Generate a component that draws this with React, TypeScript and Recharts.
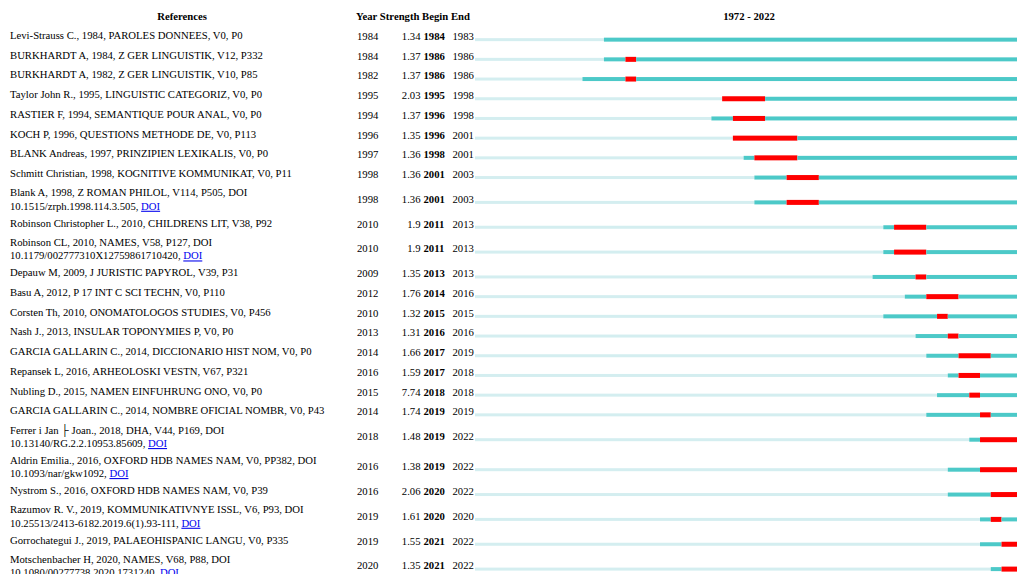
import { ComposedChart, Bar, XAxis, YAxis, Customized } from 'recharts'

// Citation bursts table, 1972 - 2022
const references = [
  'Levi-Strauss C., 1984, PAROLES DONNEES, V0, P0',
  'BURKHARDT A, 1984, Z GER LINGUISTIK, V12, P332',
  'BURKHARDT A, 1982, Z GER LINGUISTIK, V10, P85',
  'Taylor John R., 1995, LINGUISTIC CATEGORIZ, V0, P0',
  'RASTIER F, 1994, SEMANTIQUE POUR ANAL, V0, P0',
  'KOCH P, 1996, QUESTIONS METHODE DE, V0, P113',
  'BLANK Andreas, 1997, PRINZIPIEN LEXIKALIS, V0, P0',
  'Schmitt Christian, 1998, KOGNITIVE KOMMUNIKAT, V0, P11',
  'Blank A, 1998, Z ROMAN PHILOL, V114, P505, DOI\n10.1515/zrph.1998.114.3.505',
  'Robinson Christopher L., 2010, CHILDRENS LIT, V38, P92',
  'Robinson CL, 2010, NAMES, V58, P127, DOI\n10.1179/002777310X12759861710420',
  'Depauw M, 2009, J JURISTIC PAPYROL, V39, P31',
  'Basu A, 2012, P 17 INT C SCI TECHN, V0, P110',
  'Corsten Th, 2010, ONOMATOLOGOS STUDIES, V0, P456',
  'Nash J., 2013, INSULAR TOPONYMIES P, V0, P0',
  'GARCIA GALLARIN C., 2014, DICCIONARIO HIST NOM, V0, P0',
  'Repansek L, 2016, ARHEOLOSKI VESTN, V67, P321',
  'Nubling D., 2015, NAMEN EINFUHRUNG ONO, V0, P0',
  'GARCIA GALLARIN C., 2014, NOMBRE OFICIAL NOMBR, V0, P43',
  'Ferrer i Jan \u251c Joan., 2018, DHA, V44, P169, DOI\n10.13140/RG.2.2.10953.85609',
  'Aldrin Emilia., 2016, OXFORD HDB NAMES NAM, V0, PP382, DOI\n10.1093/nar/gkw1092',
  'Nystrom S., 2016, OXFORD HDB NAMES NAM, V0, P39',
  'Razumov R. V., 2019, KOMMUNIKATIVNYE ISSL, V6, P93, DOI\n10.25513/2413-6182.2019.6(1).93-111',
  'Gorrochategui J., 2019, PALAEOHISPANIC LANGU, V0, P335',
  'Motschenbacher H, 2020, NAMES, V68, P88, DOI\n10.1080/00277738.2020.1731240',
]

const years = [1984, 1984, 1982, 1995, 1994, 1996, 1997, 1998, 1998, 2010, 2010, 2009, 2012, 2010, 2013, 2014, 2016, 2015, 2014, 2018, 2016, 2016, 2019, 2019, 2020]
const strengths = ['1.34', '1.37', '1.37', '2.03', '1.37', '1.35', '1.36', '1.36', '1.36', '1.9', '1.9', '1.35', '1.76', '1.32', '1.31', '1.66', '1.59', '7.74', '1.74', '1.48', '1.38', '2.06', '1.61', '1.55', '1.35']
const begins = [1984, 1986, 1986, 1995, 1996, 1996, 1998, 2001, 2001, 2011, 2011, 2013, 2014, 2015, 2016, 2017, 2017, 2018, 2019, 2019, 2019, 2020, 2020, 2021, 2021]
const ends = [1983, 1986, 1986, 1998, 1998, 2001, 2001, 2003, 2003, 2013, 2013, 2013, 2016, 2015, 2016, 2019, 2018, 2018, 2019, 2022, 2022, 2022, 2020, 2022, 2022]

const FIRST_YEAR = 1972
const LAST_YEAR = 2022

const FONT = '"Liberation Serif", "Times New Roman", serif'
const FONT_SIZE = 10.7
const LIGHT = '#d4eef0'
const TEAL = '#4cc9c8'
const RED = '#ff0000'

// row layout: two-line references get taller rows
const lineCounts = references.map(r => r.split('\n').length)
const rowHeight = (n: number) => (n > 1 ? 30 : 19.7)
const rowPos: number[] = []
lineCounts.reduce((acc, n, i) => {
  const next = i === 0 ? 40 : acc + (rowHeight(lineCounts[i - 1]) + rowHeight(n)) / 2
  rowPos.push(next)
  return next
}, 0)

const data = references.map((_, i) => {
  const burstEnd = Math.max(ends[i] + 1, begins[i])
  return {
    pos: rowPos[i],
    before: years[i] - FIRST_YEAR,
    pre: begins[i] - years[i],
    burst: burstEnd - begins[i],
    post: LAST_YEAR + 1 - burstEnd,
  }
})

const segment = (color: string, thick: number) => (props: any) => {
  const { x, y, width, height } = props
  if (!width || width <= 0) return <g />
  const cy = y + height / 2
  return <rect x={x} y={cy - thick / 2} width={width} height={thick} fill={color} />
}

function RowTick(props: any) {
  const { y, payload } = props
  const i = rowPos.findIndex(p => Math.abs(p - payload.value) < 0.01)
  if (i < 0) return null
  const lines = references[i].split('\n')
  const common = { fontFamily: FONT, fontSize: FONT_SIZE, fill: '#000' }
  return (
    <g>
      {lines.length === 1 ? (
        <text x={10} y={y - 1} {...common}>{lines[0]}</text>
      ) : (
        <>
          <text x={10} y={y - 6.5} {...common}>{lines[0]}</text>
          <text x={10} y={y + 7} {...common}>
            {lines[1] + ', '}
            <tspan fill="#0000ee" textDecoration="underline">DOI</tspan>
          </text>
        </>
      )}
      <text x={357} y={y} {...common}>{years[i]}</text>
      <text x={420.5} y={y} textAnchor="end" {...common}>{strengths[i]}</text>
      <text x={423.5} y={y} fontWeight="bold" {...common}>{begins[i]}</text>
      <text x={452.5} y={y} {...common}>{ends[i]}</text>
    </g>
  )
}

function Header() {
  const common = { fontFamily: FONT, fontSize: FONT_SIZE, fill: '#000', fontWeight: 'bold' as const, y: 20 }
  return (
    <g>
      <text x={182} textAnchor="middle" {...common}>References</text>
      <text x={356} {...common}>Year Strength Begin End</text>
      <text x={749} textAnchor="middle" {...common}>{`${FIRST_YEAR} - ${LAST_YEAR}`}</text>
    </g>
  )
}

export default function App() {
  return (
    <div style={{ position: 'absolute', left: 0, top: 0, width: 1017, height: 574, overflow: 'hidden', background: '#fff' }}>
      <ComposedChart
        layout="vertical"
        width={1030}
        height={574}
        data={data}
        margin={{ top: 0, right: 7, bottom: 0, left: 0 }}
      >
        <XAxis type="number" domain={[0, LAST_YEAR - FIRST_YEAR + 1]} hide allowDataOverflow />
        <YAxis
          type="number"
          dataKey="pos"
          domain={[0, 574]}
          allowDataOverflow
          ticks={rowPos}
          interval={0}
          width={475}
          axisLine={false}
          tickLine={false}
          tick={<RowTick />}
        />
        <Bar dataKey="before" stackId="t" barSize={5} shape={segment(LIGHT, 3)} isAnimationActive={false} />
        <Bar dataKey="pre" stackId="t" barSize={5} shape={segment(TEAL, 4)} isAnimationActive={false} />
        <Bar dataKey="burst" stackId="t" barSize={5} shape={segment(RED, 5)} isAnimationActive={false} />
        <Bar dataKey="post" stackId="t" barSize={5} shape={segment(TEAL, 4)} isAnimationActive={false} />
        <Customized component={Header} />
      </ComposedChart>
    </div>
  )
}
